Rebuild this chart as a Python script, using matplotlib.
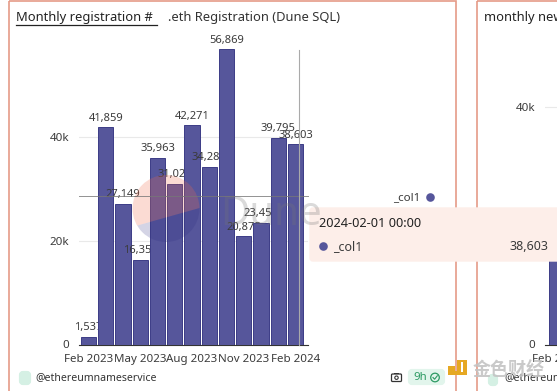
import matplotlib
matplotlib.use("Agg")
import matplotlib.pyplot as plt
from matplotlib.patches import Circle, FancyBboxPatch, Polygon, Rectangle

W, H = 557, 391
plt.rcParams['font.family'] = ['Noto Sans', 'Noto Sans CJK SC', 'DejaVu Sans']

months = ["Feb 2023", "Mar 2023", "Apr 2023", "May 2023", "Jun 2023", "Jul 2023", "Aug 2023",
          "Sep 2023", "Oct 2023", "Nov 2023", "Dec 2023", "Jan 2024", "Feb 2024"]
col1 = [1537, 41859, 27149, 16355, 35963, 31025, 42271, 34285, 56869, 20875, 23455, 39795, 38603]
y_ticks = [0, 20000, 40000]
y_tick_labels = ["0", "20k", "40k"]
x_tick_idx = [0, 3, 6, 9, 12]
second_first_bar = 20000

BAR = "#56569b"
EDGE = "#3c3c86"
TXT = "#3b3b3b"
BORDER = "#e59b87"


def px_axes(x0, y0, x1, y1, **kw):
    # axes from pixel box, y measured from the top of the picture
    return fig.add_axes([x0 / W, 1 - y1 / H, (x1 - x0) / W, (y1 - y0) / H], **kw)


def overlay(z):
    ax = px_axes(0, 0, W, H, zorder=z)
    ax.set_xlim(0, W)
    ax.set_ylim(H, 0)
    ax.axis("off")
    return ax


def style_axes(ax):
    ax.patch.set_alpha(0)
    ax.tick_params(axis="both", length=0, labelsize=8.3, labelcolor=TXT)
    ax.tick_params(axis="y", pad=7)
    ax.tick_params(axis="x", pad=7)
    ax.grid(axis="y", color="#e9e9e9", lw=0.8, zorder=0)
    ax.set_axisbelow(True)
    for s in ["top", "right", "left"]:
        ax.spines[s].set_visible(False)
    ax.spines["bottom"].set_color("#333333")
    ax.spines["bottom"].set_linewidth(0.8)


fig = plt.figure(figsize=(W / 100, H / 100), dpi=100, facecolor="white")

# panels and titles
bg = overlay(0)
bg.add_patch(Rectangle((8.5, 0.5), 447, 400, fill=False, ec=BORDER, lw=1.2))
bg.add_patch(Rectangle((476.5, 0.5), 200, 400, fill=False, ec=BORDER, lw=1.2))
bg.text(16, 18, "Monthly registration #", fontsize=9.3, color="#222222", va="center")
bg.plot([16, 157], [25, 25], color="#222222", lw=0.9)
bg.text(168, 18, ".eth Registration (Dune SQL)", fontsize=9.3, color="#333333", va="center")
bg.text(484, 18, "monthly new", fontsize=9.3, color="#222222", va="center")

# main chart, y scaled so 0 sits at y=344.5 and 40k at y=137
y_per_px = 40000 / (344.5 - 137)
ax = px_axes(79, 30, 308, 344.5, zorder=1)
ax.set_ylim(0, (344.5 - 30) * y_per_px)
ax.set_xlim(-0.55, 12.72)
for i, v in enumerate(col1):
    ax.bar(i, v, width=0.88, color=BAR, edgecolor=EDGE, linewidth=0.7, zorder=3 + 2 * i)
    ax.text(i, v + 700, f"{v:,}", ha="center", va="bottom", fontsize=8, color=TXT, zorder=4 + 2 * i)
ax.set_yticks(y_ticks)
ax.set_yticklabels(y_tick_labels)
ax.set_xticks(x_tick_idx)
ax.set_xticklabels([months[i] for i in x_tick_idx])
style_axes(ax)

# second panel, only its first bar is in view
ax2 = px_axes(545, 30, W, 344.5, zorder=1)
ax2.set_ylim(0, (344.5 - 30) * 40000 / (344.5 - 107))
ax2.set_xlim(-0.667, 0.03)
ax2.bar([0], [second_first_bar], width=0.88, color=BAR, edgecolor=EDGE, linewidth=0.7, zorder=3)
ax2.set_yticks([0, 40000])
ax2.set_yticklabels(["0", "40k"])
ax2.set_xticks([0])
ax2.set_xticklabels(["Feb 2023"])
style_axes(ax2)

# watermark, crosshair, legend, tooltip, footer
top = overlay(5)
upper = Polygon([(125, 229), (205, 206.5), (205, 165), (125, 165)], fc="#f2694a", ec="none", alpha=0.24)
lower = Polygon([(125, 229), (205, 206.5), (205, 250), (125, 250)], fc="#2b2b80", ec="none", alpha=0.2)
for part in (upper, lower):
    top.add_patch(part)
    part.set_clip_path(Circle((166, 208.5), 33.5, transform=top.transData))
top.text(220, 225, "Dune", fontsize=29, fontweight="bold", color="#777777", alpha=0.27, va="baseline")

top.plot([79, 308], [196, 196], color="#777777", lw=0.7, alpha=0.8)
top.plot([298.5, 298.5], [50, 344.5], color="#aaaaaa", lw=0.8)

top.text(420, 197.5, "_col1", fontsize=8.3, color=TXT, ha="right", va="center")
top.add_patch(Circle((430.5, 197.5), 4.3, fc=BAR, ec="none"))

top.add_patch(FancyBboxPatch((310, 208), 252, 53, boxstyle="round,pad=0,rounding_size=3",
                             fc="#fdeee9", ec="#fdeee9", lw=1))
top.text(319, 223.5, "2024-02-01 00:00", fontsize=9.2, color="#222222", va="center")
top.add_patch(Circle((323.5, 246.5), 4.3, fc=BAR, ec="none"))
top.text(333, 246.5, "_col1", fontsize=9, color=TXT, va="center")
top.text(548, 246.5, f"{col1[-1]:,}", fontsize=9, color=TXT, ha="right", va="center")

top.add_patch(FancyBboxPatch((21, 373), 8, 10, boxstyle="round,pad=0,rounding_size=2",
                             fc="#d5f0e4", ec="#d5f0e4", lw=3))
top.text(35, 377.5, "@ethereumnameservice", fontsize=7.6, color="#333333", va="center")
top.add_patch(FancyBboxPatch((391.5, 374), 10, 7.5, boxstyle="round,pad=0,rounding_size=1",
                             fc="none", ec="#333333", lw=0.9))
top.add_patch(Rectangle((394, 372.5), 5, 1.5, fc="#333333", ec="none"))
top.add_patch(Circle((396.5, 377.7), 1.7, fc="none", ec="#333333", lw=0.8))
top.add_patch(FancyBboxPatch((410, 371), 33, 12, boxstyle="round,pad=0,rounding_size=2",
                             fc="#e2f5ec", ec="#e2f5ec", lw=3))
top.text(413, 377.5, "9h", fontsize=8.2, color="#2d9a63", va="center")
top.add_patch(Circle((435, 377.5), 4.3, fc="none", ec="#2d9a63", lw=0.9))
top.plot([433, 434.6, 437.3], [377.5, 379.2, 375.8], color="#2d9a63", lw=0.8)

top.add_patch(FancyBboxPatch((490, 376), 6, 8, boxstyle="round,pad=0,rounding_size=2",
                             fc="#d5f0e4", ec="#d5f0e4", lw=3))
top.text(504, 377.5, "@ethereumnameservice", fontsize=7.6, color="#333333", va="center")

# site mark in the corner
top.add_patch(Polygon([(457, 360), (467, 360), (467, 375), (448, 375), (448, 371), (457, 371)],
                      fc="#e6a823", ec="none"))
top.add_patch(Rectangle((448, 366), 7, 5, fc="#e6a823", ec="none"))
top.add_patch(Rectangle((461, 362), 2, 10, fc="white", ec="none"))
top.text(473, 370.5, "金色财经", fontsize=13, color="#c4c4c4", alpha=0.9, va="center", fontweight="bold")

fig.savefig("out.png", dpi=100)
